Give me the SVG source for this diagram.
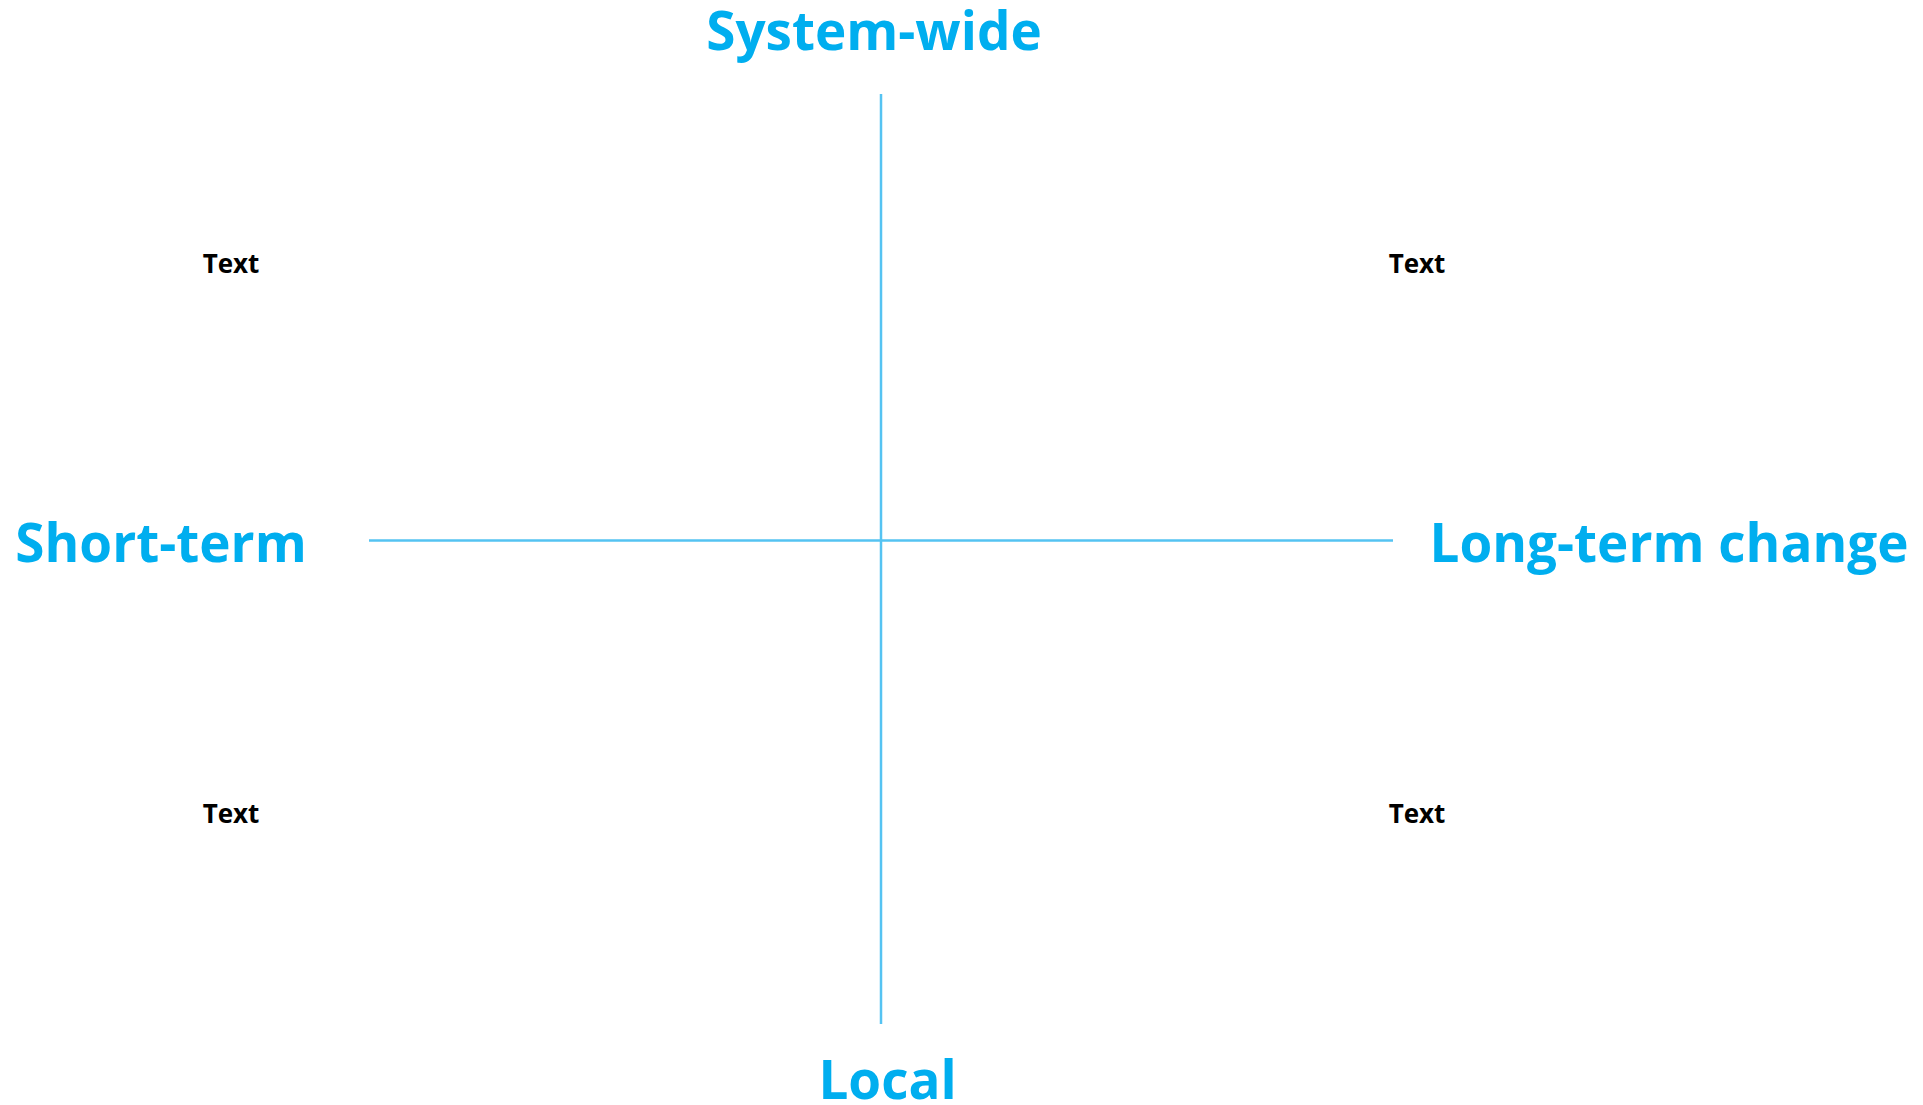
<svg xmlns="http://www.w3.org/2000/svg" width="1923" height="1105" viewBox="0 0 1923 1105">
<style>
.axis{font-family:"Open Sans","Noto Sans","Liberation Sans",sans-serif;font-weight:700;font-size:53px;fill:#00AEEF}
.lbl{font-family:"Open Sans","Noto Sans","Liberation Sans",sans-serif;font-weight:700;font-size:26px;fill:#000}
.ax{stroke:#55C3F2;stroke-width:2.5;fill:none}
</style>
<rect width="1923" height="1105" fill="#fff"/>
<g id="connectors">
<line class="ax" x1="881" y1="94" x2="881" y2="1024"/>
<line class="ax" x1="369" y1="540.5" x2="1393" y2="540.5"/>
</g>
<g id="system-wide"><text class="axis" x="874" y="50" text-anchor="middle">System-wide</text></g>
<g id="local"><text class="axis" x="887.5" y="1099" text-anchor="middle">Local</text></g>
<g id="short-term"><text class="axis" x="161" y="562" text-anchor="middle">Short-term</text></g>
<g id="long-term"><text class="axis" x="1669" y="562" text-anchor="middle">Long-term change</text></g>
<g id="text-tl"><text class="lbl" x="231" y="273" text-anchor="middle">Text</text></g>
<g id="text-tr"><text class="lbl" x="1417" y="273" text-anchor="middle">Text</text></g>
<g id="text-bl"><text class="lbl" x="231" y="823" text-anchor="middle">Text</text></g>
<g id="text-br"><text class="lbl" x="1417" y="823" text-anchor="middle">Text</text></g>
</svg>
